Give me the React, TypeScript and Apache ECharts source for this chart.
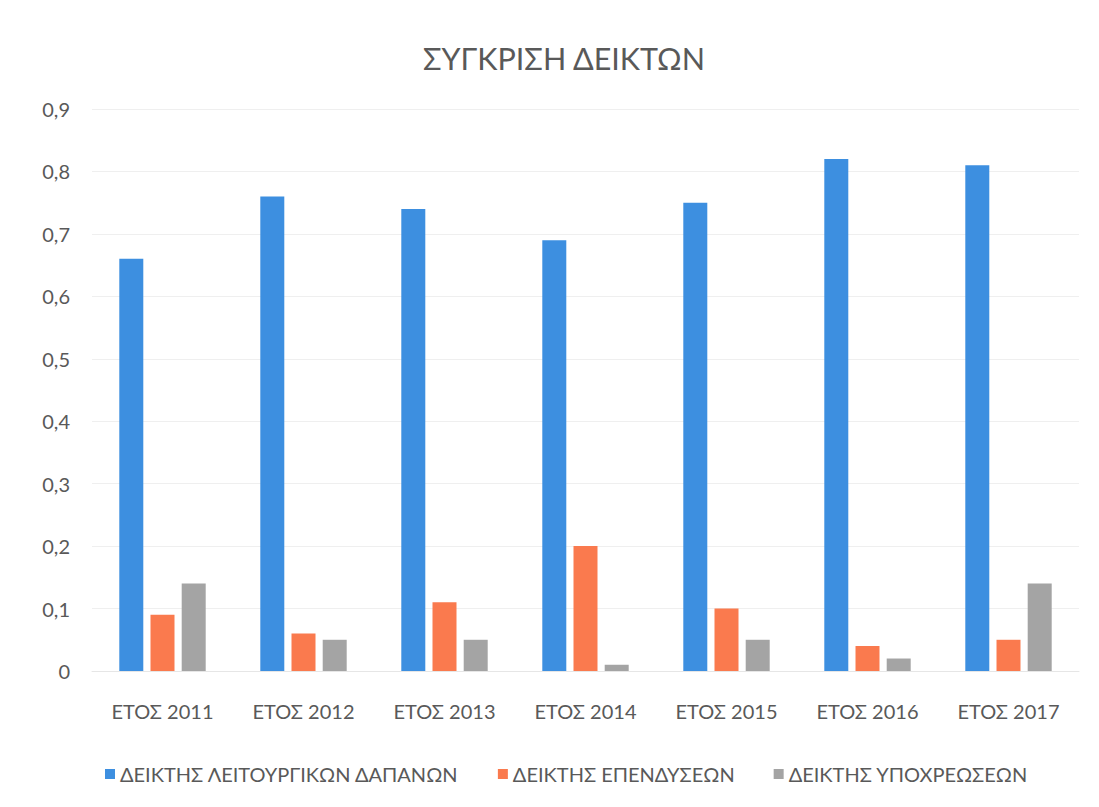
import React, { useEffect, useRef } from "react";
import * as echarts from "echarts";

const categories = ["ΕΤΟΣ 2011", "ΕΤΟΣ 2012", "ΕΤΟΣ 2013", "ΕΤΟΣ 2014", "ΕΤΟΣ 2015", "ΕΤΟΣ 2016", "ΕΤΟΣ 2017"];
const seriesNames = ["ΔΕΙΚΤΗΣ ΛΕΙΤΟΥΡΓΙΚΩΝ ΔΑΠΑΝΩΝ", "ΔΕΙΚΤΗΣ ΕΠΕΝΔΥΣΕΩΝ", "ΔΕΙΚΤΗΣ ΥΠΟΧΡΕΩΣΕΩΝ"];
const operating = [0.66, 0.76, 0.74, 0.69, 0.75, 0.82, 0.81];
const investment = [0.09, 0.06, 0.11, 0.2, 0.1, 0.04, 0.05];
const liabilities = [0.14, 0.05, 0.05, 0.01, 0.05, 0.02, 0.14];
const colors = ["#3d8fe0", "#fa7a4e", "#a4a4a4"];

const FONT = "Lato, 'Open Sans', sans-serif";
const TEXT = "#595959";

export default function App() {
  const ref = useRef<HTMLDivElement>(null);
  useEffect(() => {
    const chart = echarts.init(ref.current!, null, { renderer: "svg" });
    const data = [operating, investment, liabilities];
    chart.setOption({
      animation: false,
      backgroundColor: "#ffffff",
      title: {
        text: "ΣΥΓΚΡΙΣΗ ΔΕΙΚΤΩΝ",
        left: 410,
        top: 29,
        textStyle: { fontFamily: FONT, fontSize: 30.5, fontWeight: "normal", color: TEXT },
      },
      legend: {
        bottom: 10,
        left: 92,
        itemWidth: 10,
        itemHeight: 10,
        itemGap: 39,
        icon: "rect",
        textStyle: { fontFamily: FONT, fontSize: 20, color: TEXT },
        data: seriesNames,
      },
      grid: { left: 84, right: 12, top: 101, bottom: 128, containLabel: false },
      xAxis: {
        type: "category",
        data: categories,
        axisLine: { show: true, lineStyle: { color: "#e6e6e6" } },
        axisTick: { show: false },
        axisLabel: { fontFamily: FONT, fontSize: 20, color: TEXT, margin: 30 },
      },
      yAxis: {
        type: "value",
        min: 0,
        max: 0.9,
        interval: 0.1,
        axisLine: { show: false },
        axisTick: { show: false },
        splitLine: { lineStyle: { color: "#efefef" } },
        axisLabel: {
          fontFamily: FONT,
          fontSize: 20,
          color: TEXT,
          margin: 22,
          formatter: (v: number) => (Math.round(v * 10) / 10).toString().replace(".", ","),
        },
      },
      series: seriesNames.map((name, i) => ({
        name,
        type: "bar",
        data: data[i],
        barWidth: 24,
        barGap: "30%",
        itemStyle: { color: colors[i] },
      })),
    });
    return () => chart.dispose();
  }, []);
  return <div ref={ref} style={{ width: 1083, height: 791 }} />;
}
